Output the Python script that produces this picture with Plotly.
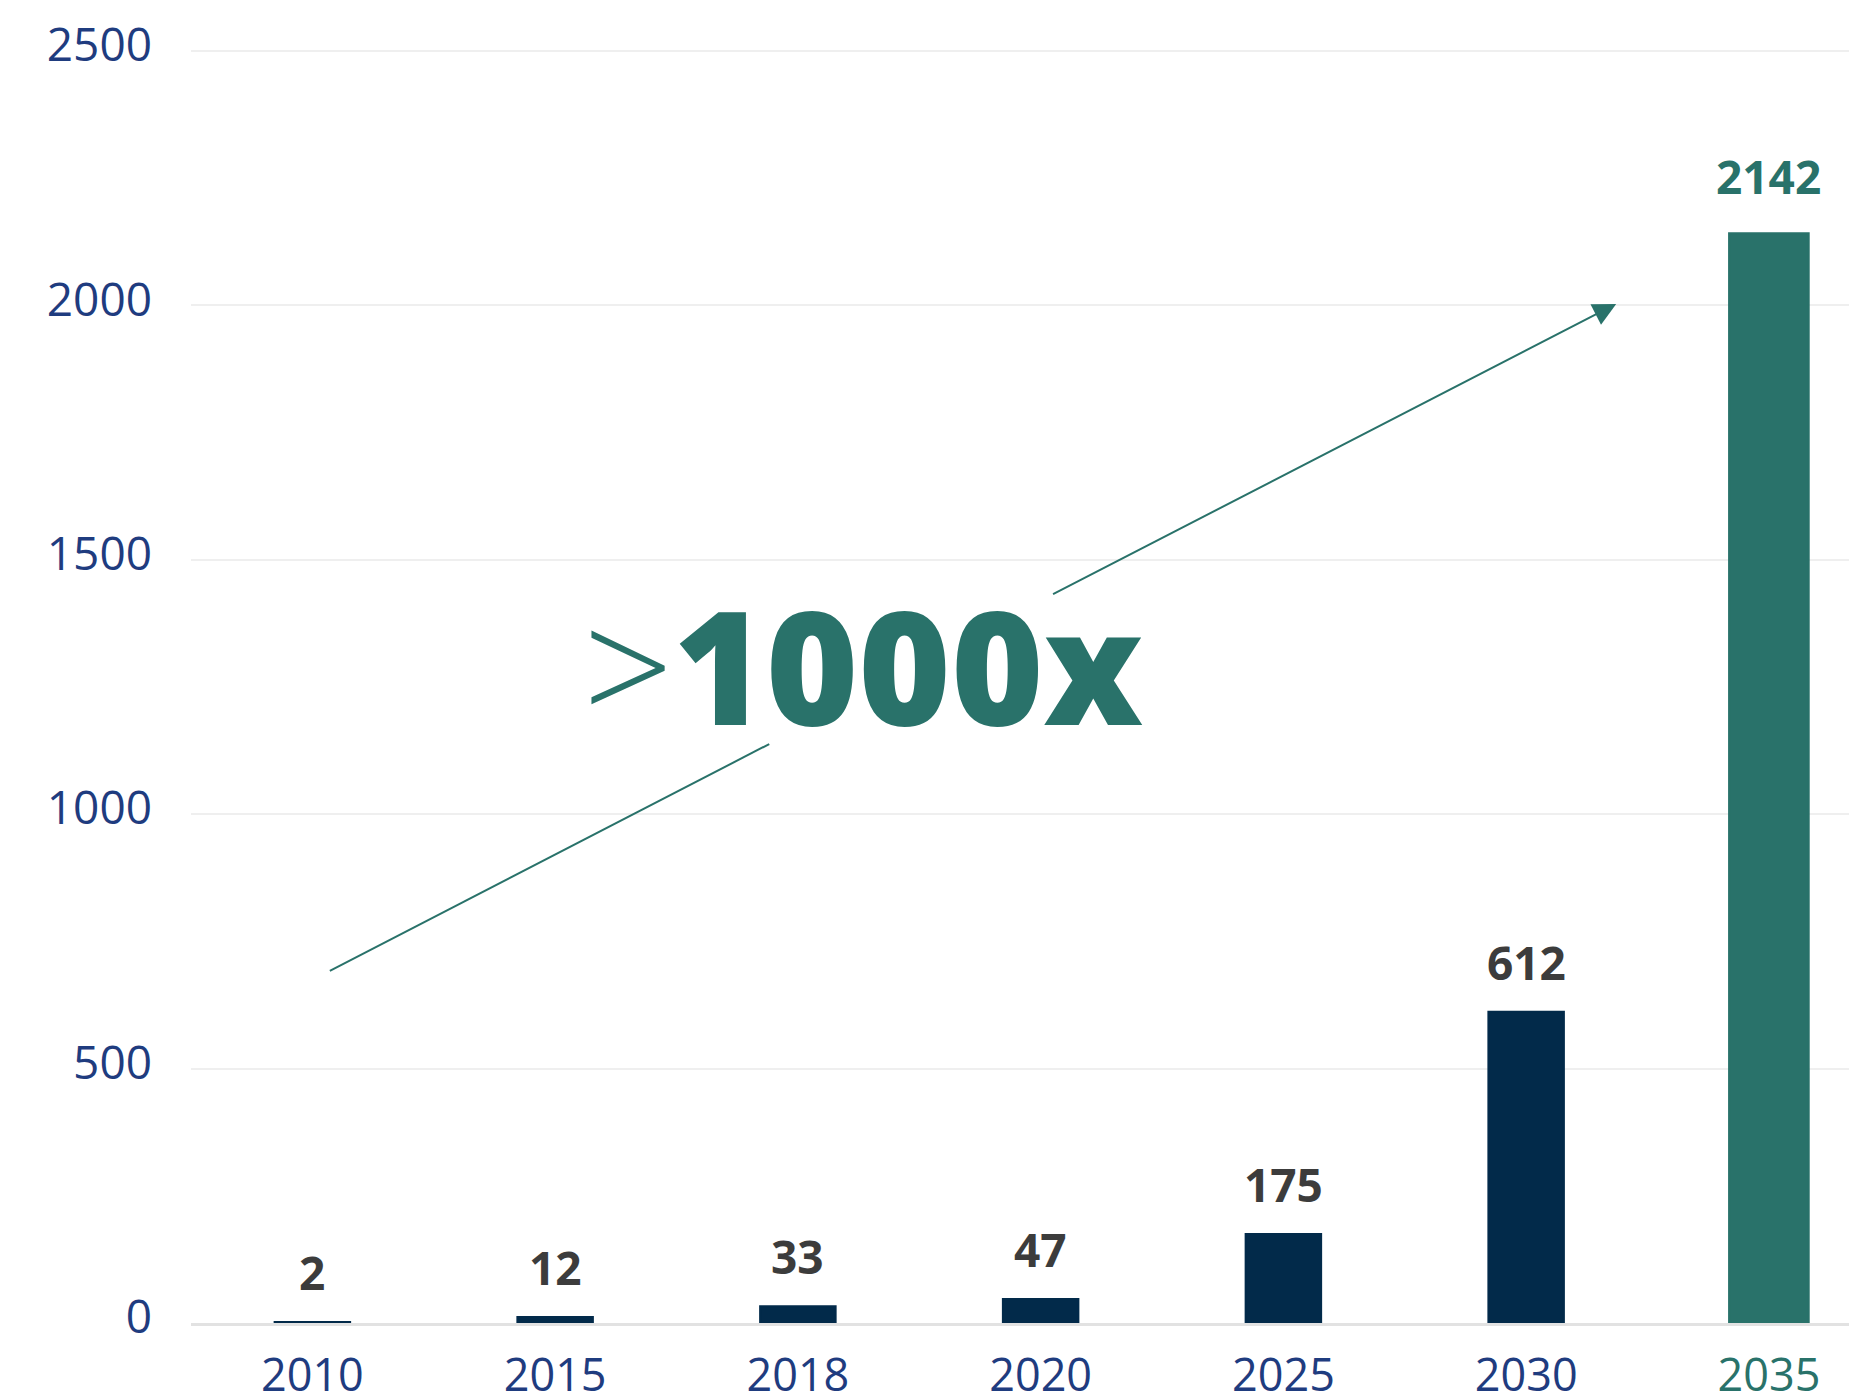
import plotly.graph_objects as go

# Data
years = ["2010", "2015", "2018", "2020", "2025", "2030", "2035"]
values = [2, 12, 33, 47, 175, 612, 2142]
y_ticks = [0, 500, 1000, 1500, 2000, 2500]
headline = "1000x"

# Palette
NAVY = "#022A4A"
TEAL = "#29726A"
TICK_BLUE = "#1F3C7F"
LABEL_GRAY = "#3C3C3C"
FONT = "Open Sans"

last = len(years) - 1
bar_colors = [TEAL if i == last else NAVY for i in range(len(years))]
bar_widths = [0.328 if i == last else 0.311 for i in range(len(years))]

fig = go.Figure(
    go.Bar(
        x=years,
        y=values,
        width=bar_widths,
        marker=dict(color=bar_colors, line=dict(color=bar_colors, width=2)),
        hoverinfo="skip",
    )
)

# Value labels above each bar (category index for x)
for i, v in enumerate(values):
    fig.add_annotation(
        xref="x", yref="y", x=i, y=v, text=f"<b>{v}</b>", showarrow=False,
        xanchor="center", yanchor="bottom",
        yshift=24 if i == last else 17,
        font=dict(family=FONT, size=46, color=TEAL if i == last else LABEL_GRAY),
    )

# Growth arrow, broken around the headline
fig.add_shape(
    type="line", xref="x", yref="y",
    x0=0.072, y0=692, x1=1.882, y1=1138,
    line=dict(color=TEAL, width=2),
)
fig.add_annotation(
    xref="x", yref="y", axref="x", ayref="y",
    x=5.371, y=2003, ax=3.045, ay=1431,
    text="", showarrow=True, arrowhead=2, arrowsize=2.3,
    arrowwidth=2, arrowcolor=TEAL, standoff=0,
)

# Headline
fig.add_annotation(
    xref="x", yref="y", x=2.27, y=1297,
    text=f"<span style='font-weight:300'>&gt;</span>{headline}",
    showarrow=False, xanchor="center", yanchor="middle",
    font=dict(family=FONT, size=158, color=TEAL, weight=800),
)

tick_text = [
    f"<span style='color:{TEAL}'>{y}</span>" if i == last else y
    for i, y in enumerate(years)
]

fig.update_layout(
    width=1849, height=1398,
    margin=dict(l=191, r=0, t=46, b=75),
    paper_bgcolor="white", plot_bgcolor="white",
    showlegend=False,
    font=dict(family=FONT),
    xaxis=dict(
        type="category", range=[-0.5, 6.33],
        tickvals=years, ticktext=tick_text,
        tickfont=dict(family=FONT, size=45, color=TICK_BLUE),
        showgrid=False, zeroline=False,
        showline=True, linecolor="#E2E2E2", linewidth=3,
        layer="below traces", ticks="", ticklabelstandoff=11,
        automargin=False,
    ),
    yaxis=dict(
        range=[0, 2510], tickvals=y_ticks,
        tickfont=dict(family=FONT, size=46, color=TICK_BLUE),
        showgrid=True, gridcolor="#EFEFEF", gridwidth=2,
        zeroline=False, showline=False, ticks="",
        ticklabelstandoff=38, ticklabelshift=-6,
        automargin=False,
    ),
)

fig.write_html("out.html")
